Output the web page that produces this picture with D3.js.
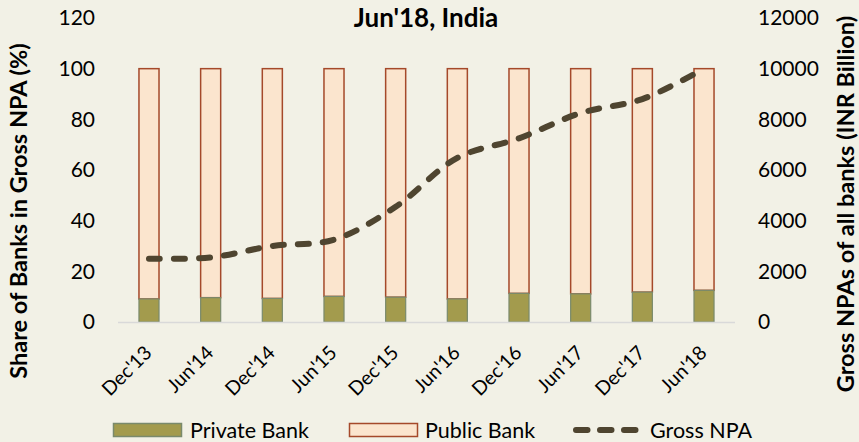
<!DOCTYPE html>
<html lang="en">
<head>
<meta charset="UTF-8">
<title>Gross NPA, India</title>
<style>
  body { margin: 0; background: #f2f1e6; }
  svg text { font-family: Lato, "Open Sans", sans-serif; fill: #000; }
</style>
</head>
<body>
<svg width="859" height="442"></svg>
<script src="https://d3js.org/d3.v7.min.js"></script>
<script>
const categories = ["Dec'13", "Jun'14", "Dec'14", "Jun'15", "Dec'15", "Jun'16", "Dec'16", "Jun'17", "Dec'17", "Jun'18"];
const privateShare = [9.1, 9.6, 9.3, 10.1, 9.8, 9.1, 11.3, 11.1, 11.8, 12.5];
const publicShare = privateShare.map(v => 100 - v);
const grossNPA = [2500, 2550, 3000, 3250, 4550, 6480, 7250, 8250, 8800, 10000];
const leftTicks = [0, 20, 40, 60, 80, 100, 120];
const rightTicks = [0, 2000, 4000, 6000, 8000, 10000, 12000];

const svg = d3.select("svg");
const plotLeft = 118, plotRight = 735, plotTop = 18, plotBottom = 322;
const font = "Lato, 'Open Sans', sans-serif";

const x = d3.scaleBand().domain(categories).range([plotLeft, plotRight]).paddingInner(0.675).paddingOuter(0.34);
const yL = d3.scaleLinear().domain([0, 120]).range([plotBottom, plotTop]);
const yR = d3.scaleLinear().domain([0, 12000]).range([plotBottom, plotTop]);

// bars
const g = svg.append("g");
g.selectAll("rect.pub").data(categories).enter().append("rect")
  .attr("x", d => x(d)).attr("width", x.bandwidth())
  .attr("y", (d, i) => yL(privateShare[i] + publicShare[i]))
  .attr("height", (d, i) => yL(privateShare[i]) - yL(privateShare[i] + publicShare[i]))
  .attr("fill", "#fbe5ce").attr("stroke", "#a5492a").attr("stroke-width", 1.5);
g.selectAll("rect.priv").data(categories).enter().append("rect")
  .attr("x", d => x(d)).attr("width", x.bandwidth())
  .attr("y", (d, i) => yL(privateShare[i]))
  .attr("height", (d, i) => yL(0) - yL(privateShare[i]))
  .attr("fill", "#a39b4d").attr("stroke", "#7a8a6c").attr("stroke-width", 1.2);

// baseline
svg.append("line").attr("x1", plotLeft).attr("x2", plotRight).attr("y1", plotBottom + 0.5).attr("y2", plotBottom + 0.5)
  .attr("stroke", "#d9d9d9").attr("stroke-width", 1.5);

// line
const line = d3.line()
  .x((d, i) => x(categories[i]) + x.bandwidth() / 2)
  .y(d => yR(d))
  .curve(d3.curveCatmullRom.alpha(0.5));
svg.append("path").datum(grossNPA).attr("d", line)
  .attr("fill", "none").attr("stroke", "#4f4530").attr("stroke-width", 6)
  .attr("stroke-dasharray", "11,14").attr("stroke-linecap", "round");

// axes
const axL = svg.append("g").attr("transform", `translate(${plotLeft - 23},0)`)
  .call(d3.axisLeft(yL).tickValues(leftTicks).tickSize(0).tickPadding(0));
const axR = svg.append("g").attr("transform", `translate(${plotRight + 23},0)`)
  .call(d3.axisRight(yR).tickValues(rightTicks).tickFormat(d3.format("d")).tickSize(0).tickPadding(0));
[axL, axR].forEach(a => {
  a.select(".domain").remove();
  a.selectAll("text").style("font-family", font).style("font-size", "21px").attr("fill", "#000");
});

const axB = svg.append("g").attr("transform", `translate(0,${plotBottom})`)
  .call(d3.axisBottom(x).tickSize(0));
axB.select(".domain").remove();
axB.selectAll("text")
  .style("font-family", font).style("font-size", "19.5px").attr("fill", "#000")
  .attr("text-anchor", "end").attr("dy", null).attr("y", 0).attr("x", 0)
  .attr("transform", "translate(4,32) rotate(-45)");

// title
svg.append("text").attr("x", 426).attr("y", 27).attr("text-anchor", "middle")
  .style("font-size", "26px").style("font-weight", "bold").text("Jun'18, India");

// axis titles
svg.append("text").attr("transform", "translate(27,211) rotate(-90)")
  .attr("text-anchor", "middle").style("font-size", "23.5px").style("font-weight", "bold")
  .text("Share of Banks in Gross NPA (%)");
svg.append("text").attr("transform", "translate(854,204) rotate(-90)")
  .attr("text-anchor", "middle").style("font-size", "23.5px").style("font-weight", "bold")
  .text("Gross NPAs of all banks (INR Billion)");

// legend
const leg = svg.append("g").attr("transform", "translate(0,430)");
leg.append("rect").attr("x", 113.5).attr("y", -6.5).attr("width", 68).attr("height", 13)
  .attr("fill", "#a39b4d").attr("stroke", "#7a8a6c").attr("stroke-width", 1.5);
leg.append("text").attr("x", 190).attr("y", 7.5).style("font-size", "21.5px").text("Private Bank");
leg.append("rect").attr("x", 349.5).attr("y", -6.5).attr("width", 68).attr("height", 13)
  .attr("fill", "#fbe5ce").attr("stroke", "#a5492a").attr("stroke-width", 1.5);
leg.append("text").attr("x", 425).attr("y", 7.5).style("font-size", "21.5px").text("Public Bank");
leg.append("line").attr("x1", 576).attr("x2", 636).attr("y1", 0).attr("y2", 0)
  .attr("stroke", "#4f4530").attr("stroke-width", 6).attr("stroke-dasharray", "11.5,12.5").attr("stroke-linecap", "round");
leg.append("text").attr("x", 650).attr("y", 7.5).style("font-size", "21.5px").text("Gross NPA");
</script>
</body>
</html>
